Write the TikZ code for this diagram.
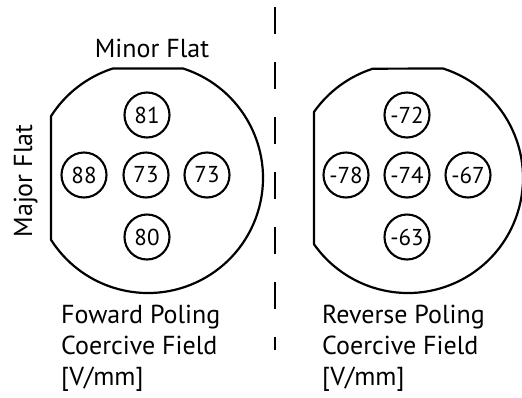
\documentclass[tikz,border=0pt]{standalone}
\usepackage{fontspec}
\setmainfont{PT Sans}
\begin{document}
\begin{tikzpicture}[x=1pt,y=-1pt,
  outline/.style={line width=2.2pt, line join=round},
  site/.style={circle, draw, line width=2.1pt, minimum size=45pt, inner sep=0pt,
    font=\fontsize{23}{26}\selectfont},
  label/.style={inner sep=0pt, font=\fontsize{26}{30}\selectfont},
  divider/.style={line width=2.2pt, dash pattern=on 27pt off 28pt}]
\useasboundingbox (0,0) rectangle (522,397);

% left wafer: circle r=115 with minor flat on top and major flat on the left
\draw[outline] (148,178) ++(-72.2:115)
  arc[start angle=-72.2, end angle=147.5, radius=115]
  -- ++(0,-123.6)
  arc[start angle=212.5, end angle=252.2, radius=115] -- cycle;

% right wafer
\draw[outline] (408,178) ++(-72.2:115)
  arc[start angle=-72.2, end angle=144.8, radius=115]
  -- ++(0,-132.4)
  arc[start angle=215.2, end angle=252.2, radius=115] -- cycle;

% measurement sites, forward poling
\node[site] (f81) at (147,115) {81};
\node[site] (f88) at (84,175) {88};
\node[site] (f73c) at (146,175) {73};
\node[site] (f73r) at (207,175) {73};
\node[site] (f80) at (147,237) {80};

% measurement sites, reverse poling
\node[site] (r72) at (407,115) {-72};
\node[site] (r78) at (346,175) {-78};
\node[site] (r74) at (407,175) {-74};
\node[site] (r67) at (468,175) {-67};
\node[site] (r63) at (407,237) {-63};

% flat labels
\node[label, anchor=base] (minor) at (152,57) {Minor Flat};
\node[label, anchor=base, rotate=90] (major) at (32,181) {Major Flat};

% captions
\node[label, anchor=base west] (fa) at (61,323) {Foward Poling};
\node[label, anchor=base west] (fb) at (61,354) {Coercive Field};
\node[label, anchor=base west] (fc) at (61,385) {[V/mm]};
\node[label, anchor=base west] (ra) at (322,323) {Reverse Poling};
\node[label, anchor=base west] (rb) at (322,354) {Coercive Field};
\node[label, anchor=base west] (rc) at (322,385) {[V/mm]};

% dividing line
\coordinate (dtop) at (275,7);
\coordinate (dbot) at (275,350);
\draw[divider] (dtop) -- (dbot);
\end{tikzpicture}
\end{document}
